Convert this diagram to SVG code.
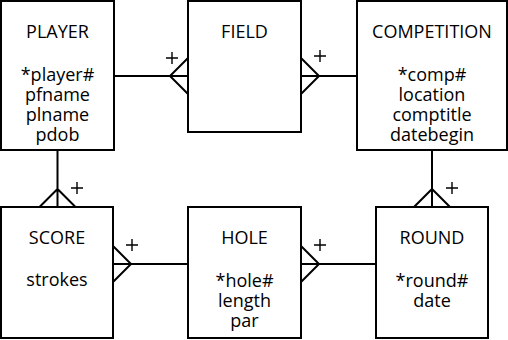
<svg xmlns="http://www.w3.org/2000/svg" width="508" height="340" viewBox="0 0 508 340">
<style>
.box{fill:#fff;stroke:#000;stroke-width:2}
.ln{fill:none;stroke:#000;stroke-width:2}
.pl{fill:none;stroke:#000;stroke-width:1.4}
text{font-family:"Open Sans","Noto Sans",sans-serif;font-size:18px;fill:#000;text-anchor:middle}
</style>
<rect width="508" height="340" fill="#fff"/>
<g id="connectors">
  <!-- PLAYER - FIELD -->
  <path class="ln" d="M114 76H188M188 58L170 76L188 94"/>
  <path class="pl" d="M166 58H178M172 52V64"/>
  <!-- FIELD - COMPETITION -->
  <path class="ln" d="M301 76H357M301 58L319 76L301 94"/>
  <path class="pl" d="M314 56H326M320 50V62"/>
  <!-- PLAYER - SCORE -->
  <path class="ln" d="M57.5 150V207M39.5 207L57.5 189L75.5 207"/>
  <path class="pl" d="M71 188H83M77 182V194"/>
  <!-- SCORE - HOLE -->
  <path class="ln" d="M113 264H188M113 246L131 264L113 282"/>
  <path class="pl" d="M126 245H138M132 239V251"/>
  <!-- HOLE - ROUND -->
  <path class="ln" d="M301 264H376M301 246L319 264L301 282"/>
  <path class="pl" d="M314 245H326M320 239V251"/>
  <!-- COMPETITION - ROUND -->
  <path class="ln" d="M432 150V207M414 207L432 189L450 207"/>
  <path class="pl" d="M446 188H458M452 182V194"/>
</g>
<g id="player">
  <rect class="box" x="1" y="1" width="113" height="149"/>
  <text x="57.5" y="38">PLAYER</text>
  <text x="57.5" y="81">*player#</text>
  <text x="57.5" y="101">pfname</text>
  <text x="57.5" y="121">plname</text>
  <text x="57.5" y="141">pdob</text>
</g>
<g id="field">
  <rect class="box" x="188" y="1" width="113" height="131"/>
  <text x="244.5" y="38">FIELD</text>
</g>
<g id="competition">
  <rect class="box" x="357" y="1" width="150" height="149"/>
  <text x="432" y="38">COMPETITION</text>
  <text x="432" y="81">*comp#</text>
  <text x="432" y="101">location</text>
  <text x="432" y="121">comptitle</text>
  <text x="432" y="141">datebegin</text>
</g>
<g id="score">
  <rect class="box" x="1" y="207" width="112" height="131"/>
  <text x="57" y="244">SCORE</text>
  <text x="57" y="286">strokes</text>
</g>
<g id="hole">
  <rect class="box" x="188" y="207" width="113" height="131"/>
  <text x="244.5" y="244">HOLE</text>
  <text x="244.5" y="287">*hole#</text>
  <text x="244.5" y="307">length</text>
  <text x="244.5" y="327">par</text>
</g>
<g id="round">
  <rect class="box" x="376" y="207" width="112" height="131"/>
  <text x="432" y="244">ROUND</text>
  <text x="432" y="287">*round#</text>
  <text x="432" y="307">date</text>
</g>
</svg>
